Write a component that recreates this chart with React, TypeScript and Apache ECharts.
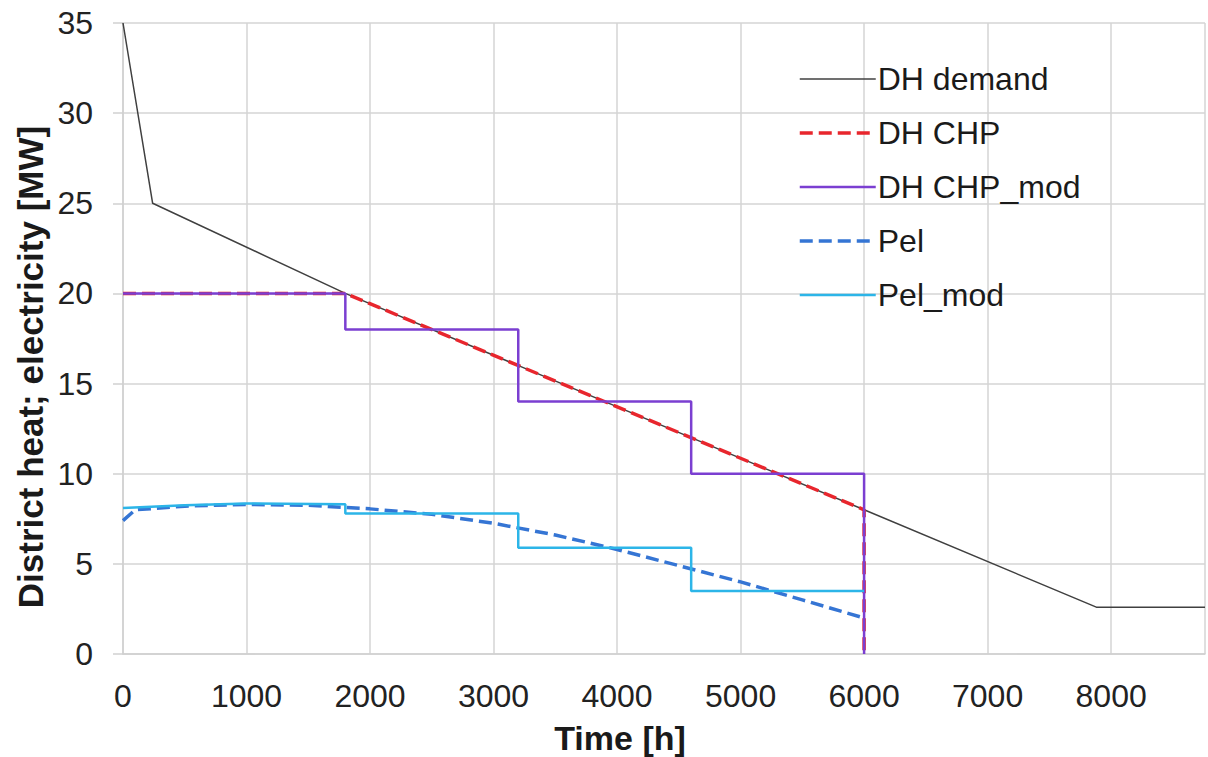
import React, { useEffect, useRef } from "react";
import * as echarts from "echarts";

const seriesNames = ["DH demand", "DH CHP", "DH CHP_mod", "Pel", "Pel_mod"];

const dhDemand: [number, number][] = [
  [0, 35], [240, 25], [1800, 20], [6000, 8], [7880, 2.6], [8760, 2.6],
];
const dhChp: [number, number][] = [
  [0, 20], [1800, 20], [6000, 8], [6000, 0],
];
const dhChpMod: [number, number][] = [
  [0, 20], [1800, 20], [1800, 18], [3200, 18], [3200, 14], [4600, 14],
  [4600, 10], [6000, 10], [6000, 0],
];
const pel: [number, number][] = [
  [0, 7.4], [100, 8.0], [500, 8.2], [1000, 8.3], [1500, 8.25], [2000, 8.05],
  [2500, 7.75], [3000, 7.25], [3500, 6.6], [4000, 5.8], [4500, 4.9],
  [5000, 4.0], [5500, 3.0], [6000, 2.0],
];
const pelMod: [number, number][] = [
  [0, 8.1], [500, 8.25], [1000, 8.35], [1800, 8.3], [1800, 7.8], [3200, 7.8],
  [3200, 5.9], [4600, 5.9], [4600, 3.5], [6000, 3.5],
];

const xMin = 0;
const xMax = 8760;
const xInterval = 1000;
const yMin = 0;
const yMax = 35;
const yInterval = 5;
const xTitle = "Time [h]";
const yTitle = "District heat; electricity [MW]";

const FONT = "'Liberation Sans', Arial, sans-serif";

const styles = [
  { color: "#404040", width: 1.5, dashed: false },
  { color: "#e8262d", width: 3.5, dashed: true },
  { color: "#7b3fd1", width: 2.5, dashed: false },
  { color: "#3575d4", width: 3.5, dashed: true },
  { color: "#2cb5e8", width: 2.5, dashed: false },
];

export default function App() {
  const ref = useRef<HTMLDivElement>(null);
  useEffect(() => {
    if (!ref.current) return;
    const chart = echarts.init(ref.current, undefined, { renderer: "svg" });
    const datasets = [dhDemand, dhChp, dhChpMod, pel, pelMod];
    const lineStyleOf = (i: number) => ({
      color: styles[i].color,
      width: styles[i].width,
      type: styles[i].dashed ? [13, 6] : "solid",
    });
    chart.setOption({
      animation: false,
      backgroundColor: "#ffffff",
      textStyle: { fontFamily: FONT },
      grid: { left: 123, top: 23, right: 3, bottom: 103, containLabel: false },
      legend: {
        orient: "vertical",
        left: 793,
        top: 58,
        itemWidth: 76,
        itemHeight: 20,
        itemGap: 22,
        data: seriesNames.map((name, i) => ({
          name,
          itemStyle: { opacity: 0 },
          lineStyle: lineStyleOf(i),
        })),
        itemStyle: { opacity: 0 },
        textStyle: { fontSize: 32, color: "#1a1a1a", fontFamily: FONT, padding: [0, 0, 0, -3] },
      },
      graphic: [
        {
          type: "text",
          x: 620,
          y: 738,
          style: {
            text: xTitle,
            fontSize: 34,
            fontWeight: "bold",
            fontFamily: FONT,
            fill: "#1a1a1a",
            align: "center",
            verticalAlign: "middle",
          },
        },
        {
          type: "text",
          x: 30,
          y: 367,
          rotation: Math.PI / 2,
          style: {
            text: yTitle,
            fontSize: 35,
            fontWeight: "bold",
            fontFamily: FONT,
            fill: "#1a1a1a",
            align: "center",
            verticalAlign: "middle",
          },
        },
      ],
      xAxis: {
        type: "value",
        min: xMin,
        max: xMax,
        interval: xInterval,
        axisLine: { show: true, lineStyle: { color: "#d0d0d0", width: 1.5 } },
        axisTick: { show: false },
        axisLabel: {
          showMaxLabel: false,
          fontSize: 32,
          color: "#222",
          margin: 26,
          fontFamily: FONT,
          formatter: (v: number) => String(v),
        },
        splitLine: { show: true, lineStyle: { color: "#d4d4d4", width: 1.5 } },
      },
      yAxis: {
        type: "value",
        min: yMin,
        max: yMax,
        interval: yInterval,
        axisLine: { show: true, lineStyle: { color: "#d0d0d0", width: 1.5 } },
        axisTick: { show: true, length: 10, lineStyle: { color: "#d0d0d0", width: 1.5 } },
        axisLabel: { fontSize: 32, color: "#222", margin: 30, fontFamily: FONT },
        splitLine: { show: true, lineStyle: { color: "#d4d4d4", width: 1.5 } },
      },
      series: seriesNames.map((name, i) => ({
        name,
        type: "line",
        data: datasets[i],
        showSymbol: false,
        symbol: "none",
        color: styles[i].color,
        lineStyle: lineStyleOf(i),
        itemStyle: { color: styles[i].color },
      })),
    });
    return () => chart.dispose();
  }, []);
  return (
    <div
      ref={ref}
      style={{ position: "fixed", left: 0, top: 0, width: 1208, height: 757, background: "#fff" }}
    />
  );
}
